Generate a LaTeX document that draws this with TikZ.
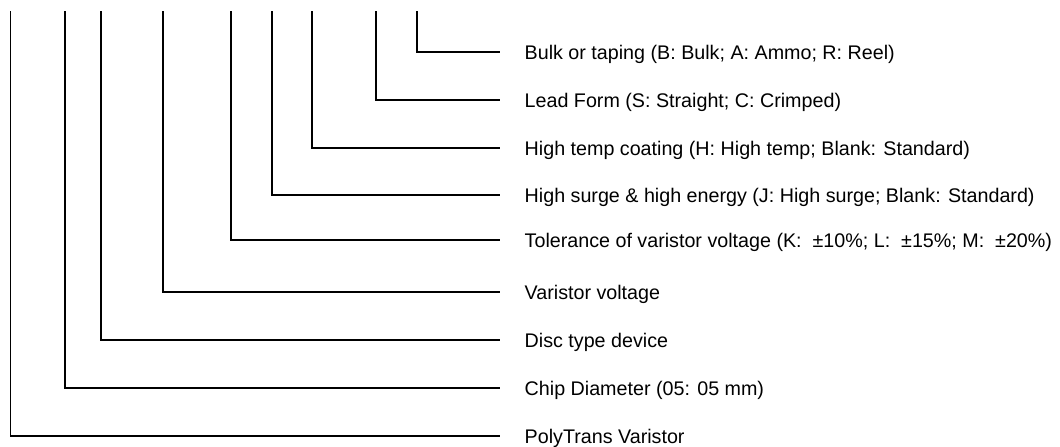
\documentclass[tikz,border=0pt]{standalone}
\usepackage{fontspec}
\setmainfont{Liberation Sans}
\begin{document}
\begin{tikzpicture}[x=1pt,y=-1pt,
  lead/.style={line width=1.6pt,line join=miter,draw=black},
  lab/.style={anchor=base west,inner sep=0pt,font=\fontsize{19.7}{22}\selectfont,text=black}]
\useasboundingbox (0,0) rectangle (1060,447);
% tops of vertical leads
\coordinate (t1) at (417,11);
\coordinate (t2) at (376,11);
\coordinate (t3) at (312,11);
\coordinate (t4) at (272,11);
\coordinate (t5) at (231,11);
\coordinate (t6) at (163,11);
\coordinate (t7) at (101,11);
\coordinate (t8) at (65,11);
\coordinate (t9) at (10.5,11);
% ends of horizontal leads
\coordinate (e1) at (500,52);
\coordinate (e2) at (500,100);
\coordinate (e3) at (500,148);
\coordinate (e4) at (500,195);
\coordinate (e5) at (500,240);
\coordinate (e6) at (500,292);
\coordinate (e7) at (500,340);
\coordinate (e8) at (500,388);
\coordinate (e9) at (500,436);
% labels
\node[lab] (l1) at ([xshift=24.5pt,yshift=-7pt]e1) {Bulk or taping (B: Bulk; A: Ammo; R: Reel)};
\node[lab] (l2) at ([xshift=24.5pt,yshift=-7pt]e2) {Lead Form (S: Straight; C: Crimped)};
\node[lab] (l3) at ([xshift=24.5pt,yshift=-7pt]e3) {High temp coating (H: High temp; Blank: Standard)};
\node[lab] (l4) at ([xshift=24.5pt,yshift=-7pt]e4) {High surge \& high energy (J: High surge; Blank: Standard)};
\node[lab] (l5) at ([xshift=24.5pt,yshift=-7pt]e5) {Tolerance of varistor voltage (K:\ \ ±10\%; L:\ \ ±15\%; M:\ \ ±20\%)};
\node[lab] (l6) at ([xshift=24.5pt,yshift=-7pt]e6) {Varistor voltage};
\node[lab] (l7) at ([xshift=24.5pt,yshift=-7pt]e7) {Disc type device};
\node[lab] (l8) at ([xshift=24.5pt,yshift=-7pt]e8) {Chip Diameter (05: 05 mm)};
\node[lab] (l9) at ([xshift=24.5pt,yshift=-7pt]e9) {PolyTrans Varistor};
% leads
\foreach \i in {1,...,9} {\draw[lead] (t\i) |- (e\i);}
\end{tikzpicture}
\end{document}
